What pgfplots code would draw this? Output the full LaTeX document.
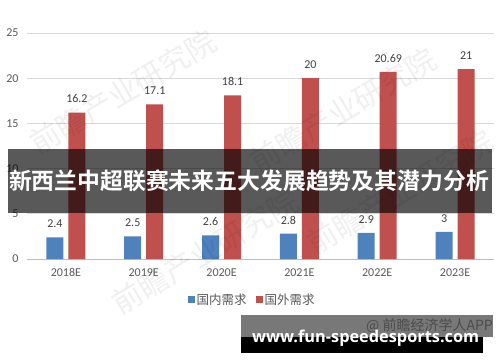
\documentclass[border=0pt]{standalone}
\usepackage{pgfplots}
\pgfplotsset{compat=1.18}
\usetikzlibrary{backgrounds}
\usepackage{fontspec}
\setmainfont{Carlito}
\newfontfamily\cjk{Noto Sans CJK SC}
\newfontfamily\cjkbold{Noto Sans CJK SC Bold}
\newfontfamily\urlfont{Open Sans}

\definecolor{domestic}{HTML}{4F81BD}
\definecolor{foreign}{HTML}{C0504D}
\definecolor{ticktext}{HTML}{595959}
\definecolor{valtext}{HTML}{404040}
\definecolor{gridgray}{HTML}{D9D9D9}
\definecolor{baseline}{HTML}{BFBFBF}

\begin{document}
\begin{tikzpicture}
\begin{axis}[
  scale only axis, width=467pt, height=226pt,
  ymin=0, ymax=25, ytick={0,5,...,25},
  xmin=-0.5, xmax=5.5,
  xtick=data,
  xticklabels={2018E,2019E,2020E,2021E,2022E,2023E},
  ybar=5pt, bar width=17pt,
  axis x line*=bottom, axis y line*=left,
  x axis line style={draw=baseline, -},
  y axis line style={draw=none},
  ymajorgrids, grid style={draw=gridgray, line width=0.8pt},
  major tick length=0pt,
  tick label style={text=ticktext, font=\fontsize{12}{14}\selectfont},
  xticklabel style={yshift=-6pt},
  yticklabel style={xshift=-5pt},
  /pgf/number format/assume math mode=true,
  nodes near coords,
  nodes near coords style={text=valtext, font=\fontsize{12}{14}\selectfont, yshift=6pt,
    /pgf/number format/assume math mode=true},
  point meta=explicit symbolic,
  legend style={at={(0.482,-0.181)}, anchor=center, draw=none, fill=none,
    legend columns=2, font=\cjk\fontsize{12.5}{14}\selectfont, text=ticktext,
    /tikz/every even column/.append style={column sep=7pt}},
  legend image code/.code={\path[#1] (0pt,-3.5pt) rectangle (7pt,3.5pt);},
]
\addplot[fill=domestic, draw=none] coordinates {
  (0,2.4) [2.4] (1,2.5) [2.5] (2,2.6) [2.6] (3,2.8) [2.8] (4,2.9) [2.9] (5,3) [3]};
\addplot[fill=foreign, draw=none] coordinates {
  (0,16.2) [16.2] (1,17.1) [17.1] (2,18.1) [18.1] (3,20) [20] (4,20.69) [20.69] (5,21) [21]};
\legend{国内需求,国外需求}
% lower-left corner of the plot area, used to place the overlays below
\coordinate (plotLL) at (rel axis cs:0,0);
\end{axis}

% overlays, laid out on a 500 x 362 sheet whose plot area starts at (27,103)
\begin{scope}[shift={(plotLL)}, xshift=-27pt, yshift=-103pt, x=1pt, y=1pt]
  \begin{scope}[on background layer]
    \fill[white] (0,0) rectangle (500,362);
  \end{scope}

  % faint diagonal watermark
  \begin{scope}[opacity=0.06, text=black]
    \node[rotate=31, font=\cjk\fontsize{30}{30}\selectfont] at (123,270) {前瞻产业研究院};
    \node[rotate=31, font=\cjk\fontsize{30}{30}\selectfont] at (343,252) {前瞻产业研究院};
    \node[rotate=31, font=\cjk\fontsize{30}{30}\selectfont] at (205,110) {前瞻产业研究院};
    \node[rotate=31, font=\cjk\fontsize{30}{30}\selectfont] at (400,170) {前瞻产业研究院};
  \end{scope}

  % title banner across the middle
  \fill[black, opacity=0.65] (8,149) rectangle (492,213);
  \node[text=white, inner sep=0pt] at (249,181)
    {\resizebox{480pt}{!}{\cjkbold 新西兰中超联赛未来五大发展趋势及其潜力分析}};

  % bottom-right credit bands
  \fill[black!53] (241,25) rectangle (493,47);
  \fill[black] (241,9) rectangle (483,25);
  \node[anchor=east, text=black!70, font=\cjk\fontsize{14}{14}\selectfont, inner sep=0pt] at (493,36) {@ 前瞻经济学人APP};
  \node[anchor=base west, text=white, inner sep=0pt] at (252,20)
    {\resizebox{227pt}{!}{\urlfont\bfseries www.fun-speedesports.com}};

  \pgfresetboundingbox
  \useasboundingbox (0,0) rectangle (500,362);
\end{scope}
\end{tikzpicture}
\end{document}
